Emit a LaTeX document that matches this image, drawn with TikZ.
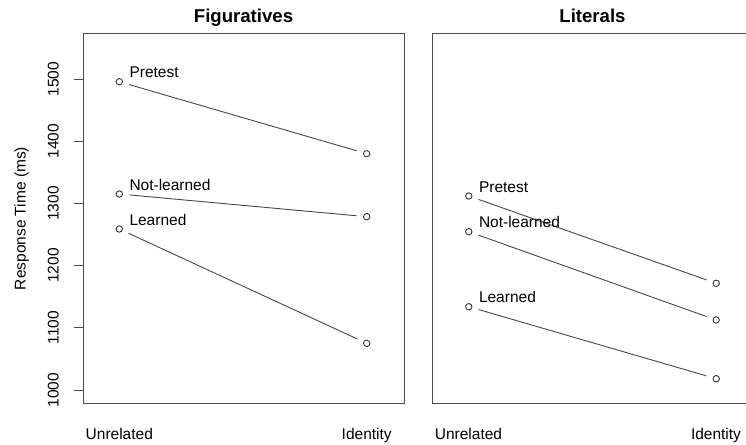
\documentclass[tikz,border=0pt]{standalone}
\usepackage{fontspec}
\setmainfont{Liberation Sans}
\begin{document}
\begin{tikzpicture}[x=1pt,y=-1pt,
  frame/.style={draw=black!70,line width=1pt},
  dot/.style={circle,draw=black!80,line width=0.9pt,inner sep=0pt,minimum size=6.4pt},
  conn/.style={draw=black!72,line width=0.9pt,shorten >=6.6pt,shorten <=6.6pt},
  lbl/.style={anchor=base west,inner sep=0pt,font=\fontsize{15.5}{18}\selectfont},
  axlbl/.style={anchor=base,inner sep=0pt,font=\fontsize{15.5}{18}\selectfont},
  ticklbl/.style={anchor=base,inner sep=0pt,rotate=90,font=\fontsize{15.5}{18}\selectfont},
  ttl/.style={anchor=base,inner sep=0pt,font=\fontsize{18.6}{22}\selectfont\bfseries},
  tickmark/.style={draw=black!70,line width=1pt}]
\useasboundingbox (0,0) rectangle (746,444);
% panel frames
\draw[frame] (83,34) rectangle (404,403);
\draw[frame] (746,34) -- (432,34) -- (432,403) -- (746,403);
% titles
\node[ttl] (t1) at (243.5,22.5) {Figuratives};
\node[ttl] (t2) at (592.5,22.5) {Literals};
% y axis
\node[anchor=base,inner sep=0pt,rotate=90,font=\fontsize{15.5}{18}\selectfont] (ylab) at (25.5,218.5) {Response Time (ms)};
\foreach \v/\y in {1000/390,1100/327.8,1200/265.6,1300/203.4,1400/141.2,1500/79}{
  \coordinate (ta\v) at (73.5,\y);
  \coordinate (tb\v) at (83,\y);
  \draw[tickmark] (ta\v) -- (tb\v);
  \node[ticklbl] (tl\v) at (58.5,\y) {\v};
}
% x labels
\node[axlbl] (xl1) at (119.3,439) {Unrelated};
\node[axlbl] (xl2) at (366.7,439) {Identity};
\node[axlbl] (xl3) at (468.5,439) {Unrelated};
\node[axlbl] (xl4) at (716,439) {Identity};
% left panel points
\node[dot] (lPu) at (119.3,81.7) {};
\node[dot] (lPi) at (366.7,153.7) {};
\node[dot] (lNu) at (119.3,194) {};
\node[dot] (lNi) at (366.7,216.7) {};
\node[dot] (lLu) at (119.3,229) {};
\node[dot] (lLi) at (366.7,343.3) {};
\draw[conn] (lPu) -- (lPi);
\draw[conn] (lNu) -- (lNi);
\draw[conn] (lLu) -- (lLi);
\node[lbl] (lPl) at (129.3,77.5) {Pretest};
\node[lbl] (lNl) at (129.3,190) {Not-learned};
\node[lbl] (lLl) at (129.3,225) {Learned};
% right panel points
\node[dot] (rPu) at (468.8,196) {};
\node[dot] (rPi) at (716.2,283.3) {};
\node[dot] (rNu) at (468.8,231.7) {};
\node[dot] (rNi) at (716.2,320) {};
\node[dot] (rLu) at (468.8,306.7) {};
\node[dot] (rLi) at (716.2,378.7) {};
\draw[conn] (rPu) -- (rPi);
\draw[conn] (rNu) -- (rNi);
\draw[conn] (rLu) -- (rLi);
\node[lbl] (rPl) at (478.8,192) {Pretest};
\node[lbl] (rNl) at (478.8,227.7) {Not-learned};
\node[lbl] (rLl) at (478.8,302.7) {Learned};
\end{tikzpicture}
\end{document}
